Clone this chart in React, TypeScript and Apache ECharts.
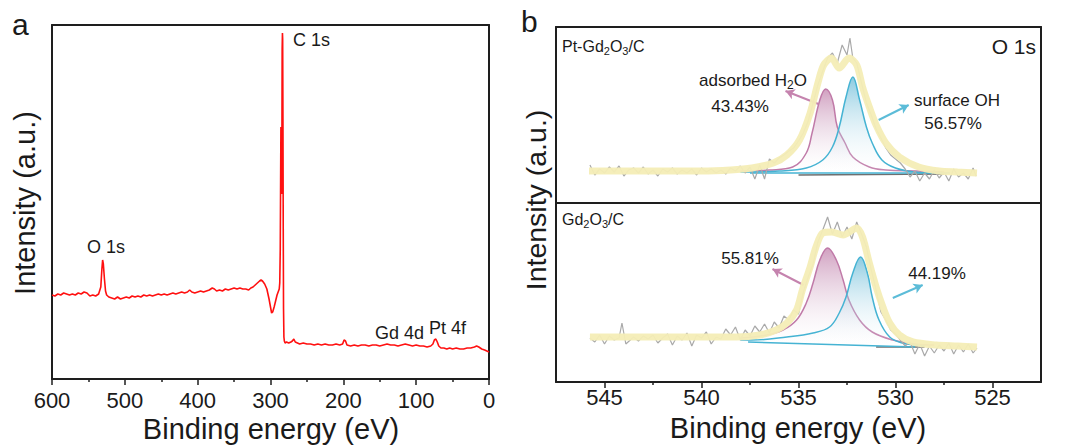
import React, { useEffect, useRef } from 'react';
import * as echarts from 'echarts';

const FONT = '"Liberation Sans", Arial, Helvetica, sans-serif';
const INK = '#1a1a1a';
const FRAME = '#1e1e1e';

// ---------- Panel a : survey spectrum [binding energy (eV), intensity] ----------
const surveySpectrum: number[][] = [
  [600, 84], [596, 83], [592, 85], [588, 84], [584, 86], [580, 85], [576, 84], [572, 85], [568, 84], [564, 86],
  [560, 85], [556, 87], [552, 86], [548, 83], [544, 84], [540, 83], [536, 85], [533, 92], [531.5, 110], [530.5, 119],
  [529.5, 115], [528, 100], [526.5, 88], [525, 84], [522, 82], [518, 81], [514, 80], [510, 82], [506, 80], [502, 81],
  [498, 82], [494, 81], [490, 83], [486, 82], [482, 83], [478, 82], [474, 84], [470, 83], [466, 84], [462, 83],
  [458, 84], [454, 85], [450, 84], [446, 85], [442, 84], [438, 85], [434, 86], [430, 85], [426, 86], [422, 87],
  [418, 86], [414, 87], [411, 89], [408, 87], [404, 86], [400, 87], [396, 88], [392, 87], [388, 88], [384, 89],
  [380, 91], [377, 90], [374, 88], [370, 89], [366, 88], [362, 90], [358, 89], [354, 90], [350, 91], [346, 90],
  [342, 91], [338, 90], [334, 90], [330, 89], [327, 91], [324, 92], [321, 94], [318, 96], [315, 98], [313, 99],
  [311, 98], [308, 95], [305, 90], [302, 80], [300, 72], [298.5, 66], [297, 67], [295, 72], [293, 78], [291, 84],
  [289, 88], [288, 90], [287.3, 96], [286.6, 130], [286.1, 200], [285.7, 252], [285.2, 240], [284.8, 185], [284.4, 220],
  [284, 330], [283.6, 346], [283.3, 340], [282.9, 260], [282.5, 150], [282.1, 70], [281.6, 42], [281, 38], [280, 36],
  [278, 37], [275, 36], [272, 37], [270, 38], [268, 40], [266, 37], [263, 36], [260, 35], [255, 36], [250, 35],
  [245, 35], [240, 34], [235, 35], [230, 34], [225, 35], [220, 34], [215, 34], [210, 35], [205, 34], [201, 35],
  [199, 39], [197, 38], [195, 34], [190, 33], [185, 34], [180, 33], [175, 34], [170, 34], [165, 33], [160, 34],
  [155, 34], [150, 33], [145, 34], [140, 35], [135, 34], [130, 34], [125, 33], [120, 34], [115, 35], [110, 34],
  [105, 33], [100, 34], [95, 33], [90, 33], [85, 32], [80, 33], [77, 35], [75, 39], [73, 40], [71, 37],
  [69, 33], [66, 31], [62, 31], [58, 30], [54, 31], [50, 30], [45, 31], [40, 30], [35, 30], [30, 31],
  [25, 31], [20, 32], [17, 33], [14, 32], [10, 30], [6, 29], [3, 28], [0, 27],
];
const surveyTicks = [600, 500, 400, 300, 200, 100, 0];

// ---------- Panel b (top) : Pt-Gd2O3/C, O 1s ----------
const topRaw: number[][] = [
  [545.75, 38], [545.5, 28], [545.25, 34], [545, 30], [544.75, 36], [544.5, 31], [544.25, 37], [544, 27], [543.75, 33], [543.5, 35],
  [543.25, 30], [543, 36], [542.75, 29], [542.5, 33], [542.25, 27], [542, 34], [541.75, 31], [541.5, 35], [541.25, 29], [541, 33],
  [540.75, 30], [540.5, 34], [540.25, 28], [540, 35], [539.75, 31], [539.5, 34], [539.25, 30], [539, 33], [538.75, 29], [538.5, 35],
  [538.25, 32], [538, 37], [537.75, 30], [537.5, 36], [537.25, 24], [537, 38], [536.75, 24], [536.5, 44], [536.25, 40], [536, 45],
  [535.75, 48], [535.5, 52], [535.25, 55], [535, 62], [534.75, 70], [534.5, 82], [534.25, 100], [534, 118], [533.75, 132], [533.5, 145],
  [533.25, 150], [533, 140], [532.75, 158], [532.5, 148], [532.35, 165], [532.2, 145], [532, 140], [531.75, 120], [531.5, 100], [531.25, 88],
  [531, 74], [530.75, 65], [530.5, 55], [530.25, 48], [530, 44], [529.75, 40], [529.5, 34], [529.25, 26], [529, 32], [528.75, 22],
  [528.5, 30], [528.25, 24], [528, 33], [527.75, 25], [527.5, 31], [527.25, 22], [527, 34], [526.75, 26], [526.5, 30], [526.25, 24],
  [526, 35], [525.85, 27],
];
const topEnvelope: number[][] = [
  [545.8, 32], [544, 32], [542, 32], [540, 32], [538.5, 33], [537.4, 35], [536.3, 40], [535.6, 48], [534.95, 63], [534.4, 90],
  [534.0, 120], [533.7, 138], [533.3, 145], [532.9, 135], [532.4, 145], [532.0, 138], [531.7, 116], [531.35, 96], [531.0, 78], [530.5, 60],
  [529.8, 46], [528.8, 36], [527.75, 32], [526.8, 31], [525.8, 30],
];
const topWater: number[][] = [
  [538, 32], [536.5, 33], [535.3, 36], [534.6, 50], [534.3, 70], [533.9, 103], [533.6, 114], [533.25, 103], [533.0, 76], [532.6, 60],
  [532.2, 46], [531.35, 36], [530.5, 33], [529, 32], [527.5, 31],
];
const topOH: number[][] = [
  [538, 31], [536, 32], [534.6, 35], [533.75, 43], [533.25, 56], [532.9, 76], [532.55, 106], [532.2, 126], [531.85, 103], [531.5, 76],
  [531.2, 60], [530.7, 43], [530.0, 35], [529, 31], [528, 30],
];
const topBaseBlue: number[][] = [[537.5, 30], [527.2, 30]];
const topBaseGray: number[][] = [[535, 28], [527.5, 29]];

// ---------- Panel b (bottom) : Gd2O3/C ----------
const botRaw: number[][] = [
  [545.75, 44], [545.5, 40], [545.25, 47], [545, 38], [544.75, 46], [544.5, 42], [544.25, 44], [544.1, 59], [543.9, 38], [543.5, 45],
  [543.25, 41], [543, 46], [542.75, 43], [542.5, 47], [542.25, 39], [542, 44], [541.75, 48], [541.5, 37], [541.25, 46], [541, 42],
  [540.75, 49], [540.5, 36], [540.25, 47], [540, 44], [539.75, 50], [539.5, 38], [539.25, 45], [539, 43], [538.75, 53], [538.5, 47],
  [538.25, 55], [538, 42], [537.75, 52], [537.5, 46], [537.25, 56], [537, 50], [536.75, 58], [536.5, 49], [536.25, 60], [536, 54],
  [535.75, 66], [535.5, 62], [535.25, 72], [535, 68], [534.75, 90], [534.5, 105], [534.25, 118], [534, 140], [533.75, 152], [533.5, 165],
  [533.25, 148], [533, 160], [532.75, 145], [532.5, 155], [532.25, 143], [532, 160], [531.75, 148], [531.5, 135], [531.25, 112], [531, 92],
  [530.75, 70], [530.5, 62], [530.25, 52], [530, 48], [529.75, 42], [529.5, 36], [529.25, 40], [529, 28], [528.75, 38], [528.5, 26],
  [528.25, 36], [528, 29], [527.75, 37], [527.5, 31], [527.25, 39], [527, 28], [526.75, 37], [526.5, 30], [526.25, 38], [526, 29],
  [525.8, 34],
];
const botEnvelope: number[][] = [
  [545.75, 45], [543, 45], [540, 45], [538.2, 45], [537.0, 47], [536.15, 52], [535.6, 59], [535.1, 72], [534.8, 92], [534.4, 115],
  [534.1, 135], [533.75, 149], [533.3, 150], [532.7, 147], [532.0, 154], [531.7, 145], [531.35, 119], [531.0, 95], [530.65, 75], [530.3, 59],
  [529.8, 47], [529.1, 40], [527.9, 37], [526.8, 36], [525.8, 35],
];
const botWater: number[][] = [
  [538, 44], [536.65, 47], [535.8, 52], [535.1, 62], [534.6, 79], [534.25, 99], [533.9, 122], [533.5, 134], [533.05, 122], [532.7, 102],
  [532.4, 82], [531.85, 62], [531.2, 50], [530.15, 42], [529, 38], [528, 37],
];
const botOH: number[][] = [
  [538, 42], [537.4, 42], [535.6, 45], [534.25, 49], [533.4, 55], [532.9, 69], [532.55, 85], [532.2, 109], [531.8, 125], [531.45, 109],
  [531.2, 85], [530.85, 62], [530.3, 45], [529.65, 39], [529, 37], [528.5, 36],
];
const botBaseBlue: number[][] = [[537.6, 40], [529, 35]];
const botBaseGray: number[][] = [[531, 35], [528.5, 35]];

const oTicksMajor = [545, 540, 535, 530, 525];
const oTicksMinor = [542.5, 537.5, 532.5, 527.5];

// arrows (data coordinates): [from, to]
const topWaterArrow = [[533.97, 99], [535.67, 112]];
const topOHArrow = [[530.87, 83], [529.32, 98]];
const botWaterArrow = [[534.74, 97], [536.34, 113]];
const botOHArrow = [[530.14, 84], [528.6, 97]];

const PINK_LINE = '#c07aa8';
const BLUE_LINE = '#45b3d3';
const ARROW_PINK = '#c583ae';
const ARROW_BLUE = '#5cbcd8';

function pinkGrad() {
  return new echarts.graphic.LinearGradient(0, 0, 0, 1, [
    { offset: 0, color: 'rgba(178,96,150,0.85)' },
    { offset: 0.55, color: 'rgba(215,180,205,0.45)' },
    { offset: 1, color: 'rgba(255,255,255,0.1)' },
  ]);
}
function blueGrad() {
  return new echarts.graphic.LinearGradient(0, 0, 0, 1, [
    { offset: 0, color: 'rgba(62,168,204,0.85)' },
    { offset: 0.55, color: 'rgba(175,218,234,0.45)' },
    { offset: 1, color: 'rgba(255,255,255,0.1)' },
  ]);
}

function arrowLine(pts: number[][], color: string) {
  return {
    silent: true,
    symbol: ['none', 'arrow'],
    symbolSize: [8, 9],
    lineStyle: { color, width: 2, type: 'solid' },
    label: { show: false },
    emphasis: { disabled: true },
    data: [[{ coord: pts[0] }, { coord: pts[1] }]],
  };
}

function panelBSeries(
  xi: number,
  raw: number[][],
  env: number[][],
  water: number[][],
  oh: number[][],
  baseBlue: number[][],
  baseGray: number[][],
  origin: number,
  wArrow: number[][],
  oArrow: number[][],
) {
  const common = { type: 'line', xAxisIndex: xi, yAxisIndex: xi === 1 ? 1 : 2, showSymbol: false, silent: true };
  return [
    {
      ...common, name: 'water' + xi, data: water, smooth: 0.4, z: 2,
      lineStyle: { color: PINK_LINE, width: 1.5 },
      areaStyle: { origin, color: pinkGrad() },
      markLine: arrowLine(wArrow, ARROW_PINK),
    },
    {
      ...common, name: 'oh' + xi, data: oh, smooth: 0.4, z: 3,
      lineStyle: { color: BLUE_LINE, width: 1.5 },
      areaStyle: { origin, color: blueGrad() },
      markLine: arrowLine(oArrow, ARROW_BLUE),
    },
    { ...common, data: baseGray, z: 3, lineStyle: { color: '#6f6f6f', width: 1.5 } },
    { ...common, data: baseBlue, z: 3, lineStyle: { color: BLUE_LINE, width: 1.5 } },
    { ...common, data: raw, z: 4, lineStyle: { color: '#a9a9a9', width: 1.2 } },
    { ...common, data: env, smooth: 0.3, z: 5, lineStyle: { color: '#f4edb6', width: 7, opacity: 0.95 } },
  ];
}

function txt(x: number, y: number, text: string, size: number, align = 'left', extra: any = {}) {
  return {
    type: 'text', x, y, silent: true, ...extra,
    style: {
      text, fill: INK, fontSize: size, fontFamily: FONT,
      align, verticalAlign: 'middle', ...(extra.style || {}),
    },
  };
}

const subRich = (size: number) => ({
  s: { fontSize: size, fontFamily: FONT, fill: INK, verticalAlign: 'bottom', lineHeight: size + 2 },
});

const axisLabelStyle = { fontSize: 22, color: INK, fontFamily: FONT };
const frameLine = { show: true, onZero: false, lineStyle: { color: FRAME, width: 2 } };
const hidden = { axisTick: { show: false }, axisLabel: { show: false }, splitLine: { show: false } };

// frame-only axes (top x, right y) for each grid
function frameX(gridIndex: number) {
  return { gridIndex, type: 'value', min: 0, max: 1, position: 'top', axisLine: frameLine, ...hidden };
}
function frameY(gridIndex: number, position: string) {
  return { gridIndex, type: 'value', min: 0, max: 1, position, axisLine: frameLine, ...hidden };
}

const option: any = {
  animation: false,
  backgroundColor: '#ffffff',
  grid: [
    { left: 52, top: 25, width: 437, height: 354, containLabel: false },
    { left: 556, top: 27, width: 485, height: 176, containLabel: false },
    { left: 556, top: 203, width: 485, height: 179, containLabel: false },
  ],
  xAxis: [
    {
      gridIndex: 0, type: 'value', min: 0, max: 600, interval: 100, inverse: true, position: 'bottom',
      axisLine: frameLine,
      axisTick: { show: true, inside: false, length: 6, lineStyle: { color: FRAME, width: 1.5 } },
      minorTick: { show: true, splitNumber: 2, length: 3, lineStyle: { color: FRAME, width: 1.5 } },
      axisLabel: { ...axisLabelStyle, margin: 10, formatter: (v: number) => (surveyTicks.includes(v) ? String(v) : '') },
      splitLine: { show: false }, minorSplitLine: { show: false },
    },
    {
      gridIndex: 1, type: 'value', min: 522.5, max: 547.5, inverse: true, position: 'bottom',
      axisLine: frameLine, ...hidden,
    },
    {
      gridIndex: 2, type: 'value', min: 522.5, max: 547.5, inverse: true, position: 'bottom',
      axisLine: frameLine,
      axisTick: { show: true, inside: false, length: 6, customValues: oTicksMajor, lineStyle: { color: FRAME, width: 1.5 } },
      axisLabel: { ...axisLabelStyle, margin: 4, customValues: oTicksMajor, formatter: (v: number) => String(v) },
      splitLine: { show: false },
    },
    {
      gridIndex: 2, type: 'value', min: 522.5, max: 547.5, inverse: true, position: 'bottom',
      axisLine: { show: false },
      axisTick: { show: true, inside: false, length: 3, customValues: oTicksMinor, lineStyle: { color: FRAME, width: 1.5 } },
      axisLabel: { show: false }, splitLine: { show: false },
    },
    frameX(0),
    frameX(1),
    frameX(2),
  ],
  yAxis: [
    { gridIndex: 0, type: 'value', min: 0, max: 354, position: 'left', axisLine: frameLine, ...hidden },
    { gridIndex: 1, type: 'value', min: 0, max: 176, position: 'left', axisLine: frameLine, ...hidden },
    { gridIndex: 2, type: 'value', min: 0, max: 179, position: 'left', axisLine: frameLine, ...hidden },
    frameY(0, 'right'),
    frameY(1, 'right'),
    frameY(2, 'right'),
  ],
  series: [
    {
      type: 'line', xAxisIndex: 0, yAxisIndex: 0, data: surveySpectrum, showSymbol: false, silent: true,
      lineStyle: { color: '#ff1010', width: 1.6 },
    },
    ...panelBSeries(1, topRaw, topEnvelope, topWater, topOH, topBaseBlue, topBaseGray, 30, topWaterArrow, topOHArrow),
    ...panelBSeries(2, botRaw, botEnvelope, botWater, botOH, botBaseBlue, botBaseGray, 38, botWaterArrow, botOHArrow),
  ],
  graphic: [
    txt(12, 24, 'a', 30),
    txt(521, 21, 'b', 30),
    txt(25, 203, 'Intensity (a.u.)', 29, 'center', { rotation: Math.PI / 2 }),
    txt(536, 200, 'Intensity (a.u.)', 28.5, 'center', { rotation: Math.PI / 2 }),
    txt(271, 429, 'Binding energy (eV)', 29, 'center'),
    txt(798, 428, 'Binding energy (eV)', 29, 'center'),
    txt(293, 40, 'C 1s', 18),
    txt(87, 247, 'O 1s', 18),
    txt(375, 333, 'Gd 4d', 18),
    txt(429, 328, 'Pt 4f', 18),
    txt(562, 46, 'Pt-Gd{s|2}O{s|3}/C', 16, 'left', { style: { rich: subRich(11), lineHeight: 20 } }),
    txt(562, 219, 'Gd{s|2}O{s|3}/C', 16, 'left', { style: { rich: subRich(11), lineHeight: 20 } }),
    txt(1036, 46, 'O 1s', 21, 'right'),
    txt(753, 80, 'adsorbed H{s|2}O', 17, 'center', { style: { rich: subRich(12), lineHeight: 21 } }),
    txt(740, 106, '43.43%', 17, 'center'),
    txt(957, 100, 'surface OH', 17, 'center'),
    txt(953, 123, '56.57%', 17, 'center'),
    txt(750, 258, '55.81%', 17, 'center'),
    txt(937, 273, '44.19%', 17, 'center'),
  ],
};

export default function App() {
  const ref = useRef<HTMLDivElement>(null);
  useEffect(() => {
    const chart = echarts.init(ref.current!, null, { renderer: 'svg' });
    chart.setOption(option);
    return () => chart.dispose();
  }, []);
  return (
    <div
      ref={ref}
      style={{ position: 'absolute', left: 0, top: 0, width: 1065, height: 448, background: '#ffffff' }}
    />
  );
}
